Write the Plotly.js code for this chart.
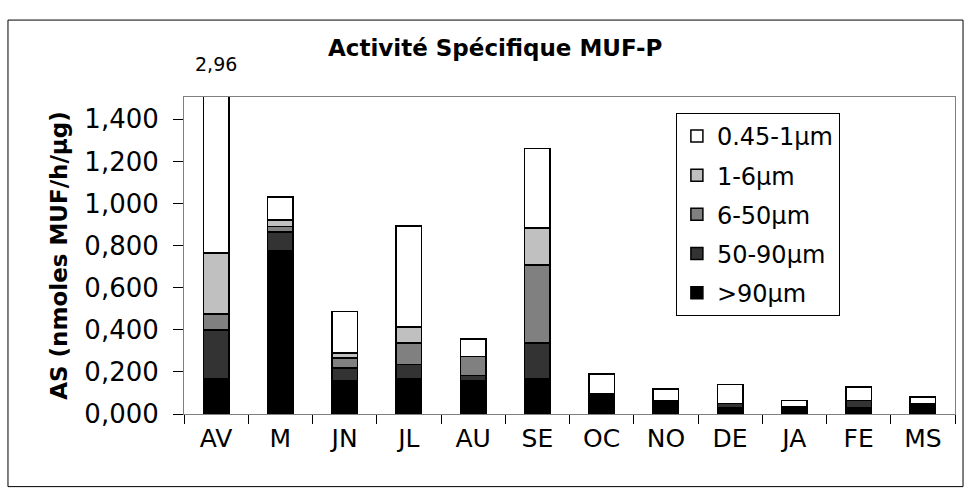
<!DOCTYPE html>
<html>
<head>
<meta charset="utf-8">
<script src="https://cdn.plot.ly/plotly-3.0.1.min.js"></script>
<style>html,body{margin:0;padding:0;background:#fff;}#chart{width:971px;height:500px;}</style>
</head>
<body>
<div id="chart"></div>
<script>
const months = ["AV","M","JN","JL","AU","SE","OC","NO","DE","JA","FE","MS"];
const seriesNames = [">90µm","50-90µm","6-50µm","1-6µm","0.45-1µm"];
const seriesColors = ["#000000","#333333","#808080","#C0C0C0","#FFFFFF"];
const gt90   = [0.168,0.776,0.158,0.166,0.159,0.166,0.095,0.065,0.031,0.036,0.030,0.049];
const s50_90 = [0.232,0.088,0.060,0.069,0.023,0.171,0.000,0.000,0.019,0.000,0.035,0.000];
const s6_50  = [0.075,0.026,0.048,0.102,0.091,0.372,0.000,0.000,0.000,0.000,0.000,0.000];
const s1_6   = [0.289,0.032,0.024,0.076,0.000,0.174,0.000,0.000,0.000,0.000,0.000,0.000];
const s045_1 = [2.196,0.108,0.197,0.480,0.084,0.379,0.096,0.054,0.089,0.029,0.063,0.032];
const seriesValues = [gt90, s50_90, s6_50, s1_6, s045_1];

const FONT = "DejaVu Sans, Verdana, sans-serif";

const traces = seriesValues.map((vals, i) => ({
  type: "bar",
  x: months,
  y: vals,
  name: seriesNames[i],
  legendgroup: "g" + i,
  legendrank: seriesValues.length - i,
  marker: {color: seriesColors[i], line: {color: "#000000", width: 1.5}},
  hoverinfo: "x+y+name"
}));

const avTotal = seriesValues.reduce((s, v) => s + v[0], 0);
const avLabel = avTotal.toFixed(2).replace(".", ",");

const layout = {
  width: 971, height: 500,
  margin: {l: 184, r: 16, t: 97, b: 86},
  paper_bgcolor: "#ffffff",
  plot_bgcolor: "#ffffff",
  barmode: "stack",
  bargap: 0.6,
  separators: ", ",
  font: {family: FONT, color: "#000000"},
  title: {
    text: "<b>Activité Spécifique MUF-P</b>",
    font: {family: FONT, size: 23, color: "#000"},
    x: 0.51, xanchor: "center", y: 0.905, yanchor: "middle"
  },
  xaxis: {
    type: "category",
    showline: true, linecolor: "#808080", linewidth: 1, mirror: true,
    ticks: "outside", ticklen: 9, tickcolor: "#000", tickson: "boundaries",
    tickfont: {family: FONT, size: 25, color: "#000"},
    ticklabelstandoff: 2,
    showgrid: false, zeroline: false
  },
  yaxis: {
    range: [0, 1.506],
    tickvals: [0,0.2,0.4,0.6,0.8,1.0,1.2,1.4],
    tickformat: ".3f",
    showline: true, linecolor: "#808080", linewidth: 1, mirror: true,
    ticks: "outside", ticklen: 10, tickcolor: "#000",
    ticklabelstandoff: 9,
    tickfont: {family: FONT, size: 26, color: "#000"},
    showgrid: false, zeroline: false,
    title: {text: "<b>AS (nmoles MUF/h/µg)</b>", font: {family: FONT, size: 23, color: "#000"}, standoff: 10}
  },
  legend: {
    x: 0.638, y: 0.95, xanchor: "left", yanchor: "top",
    bgcolor: "#ffffff", bordercolor: "#000000", borderwidth: 1,
    traceorder: "grouped", tracegroupgap: 5,
    font: {family: FONT, size: 24, color: "#000"}
  },
  annotations: [{
    x: months[0], xref: "x", y: 1.104, yref: "paper", yanchor: "middle",
    text: avLabel, showarrow: false,
    font: {family: FONT, size: 19, color: "#000"}
  }],
  shapes: [{
    type: "rect", xref: "paper", yref: "paper",
    x0: -0.2283, x1: 1.0104, y0: -0.2291, y1: 1.2427,
    line: {color: "#000000", width: 1}, fillcolor: "rgba(0,0,0,0)", layer: "below"
  }]
};

Plotly.newPlot("chart", traces, layout, {displayModeBar: false, staticPlot: true});
</script>
</body>
</html>
